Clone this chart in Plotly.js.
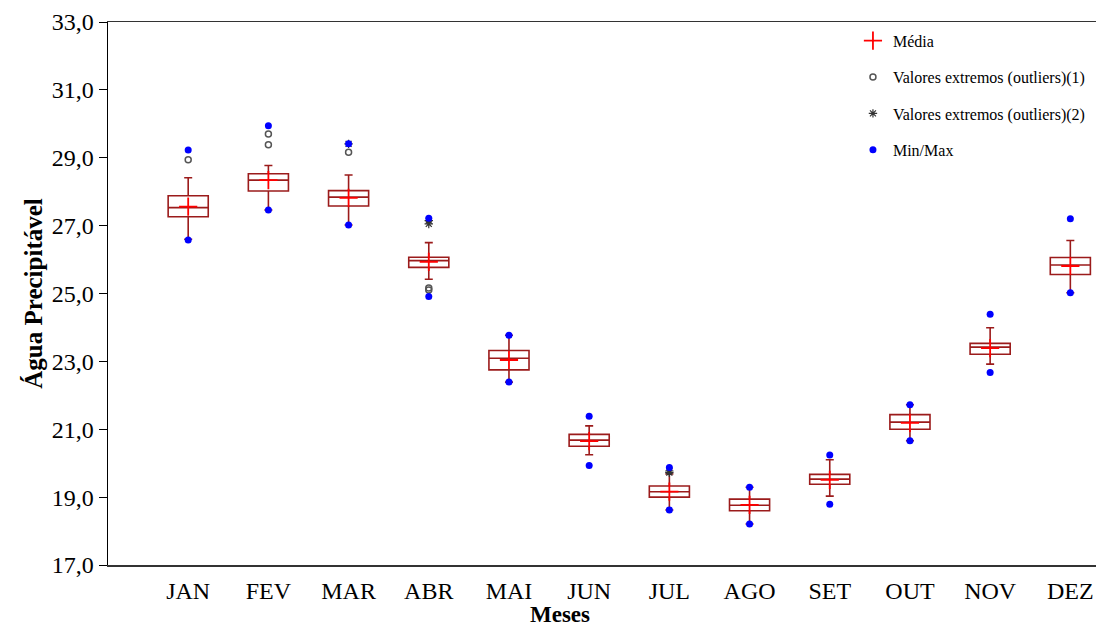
<!DOCTYPE html>
<html>
<head>
<meta charset="utf-8">
<script src="https://cdn.plot.ly/plotly-3.0.1.min.js"></script>
<style>html,body{margin:0;padding:0;background:#fff;}#chart{width:1097px;height:630px;}</style>
</head>
<body>
<div id="chart"></div>
<script>
const months = ['JAN','FEV','MAR','ABR','MAI','JUN','JUL','AGO','SET','OUT','NOV','DEZ'];
const q1     = [27.26, 28.02, 27.58, 25.77, 22.75, 20.50, 19.00, 18.60, 19.38, 21.00, 23.21, 25.56];
const median = [27.53, 28.34, 27.84, 25.97, 23.09, 20.68, 19.16, 18.76, 19.53, 21.21, 23.42, 25.84];
const q3     = [27.88, 28.53, 28.03, 26.07, 23.32, 20.85, 19.33, 18.94, 19.67, 21.43, 23.53, 26.06];
const lowerWhisker = [26.60, 27.46, 27.02, 25.42, 22.39, 20.25, 18.62, 18.21, 19.03, 20.66, 22.92, 25.02];
const upperWhisker = [28.41, 28.77, 28.49, 26.50, 23.77, 21.10, 19.68, 19.29, 20.10, 21.72, 23.99, 26.56];
const mean   = [27.56, 28.34, 27.82, 25.93, 23.04, 20.65, 19.16, 18.77, 19.51, 21.19, 23.39, 25.81];
const minVal = [26.58, 27.46, 27.02, 24.91, 22.39, 19.93, 18.62, 18.21, 18.79, 20.66, 22.67, 25.02];
const maxVal = [29.23, 29.94, 29.41, 27.22, 23.77, 21.38, 19.87, 19.29, 20.24, 21.72, 24.39, 27.20];
const outliers1Month = ['JAN','FEV','FEV','MAR','ABR','ABR'];
const outliers1Value = [28.94, 29.70, 29.38, 29.16, 25.16, 25.10];
const outliers2Month = ['MAR','ABR','ABR','JUL','JUL'];
const outliers2Value = [29.41, 27.15, 27.05, 19.77, 19.72];
const yTicks = [17, 19, 21, 23, 25, 27, 29, 31, 33];

const serif = 'Liberation Serif, Times New Roman, serif';
const boxColor = '#9b1b1b';

const traces = [
  {
    type: 'box', x: months, q1: q1, median: median, q3: q3,
    lowerfence: lowerWhisker, upperfence: upperWhisker,
    boxpoints: false, width: 0.5, whiskerwidth: 0.2,
    line: {color: boxColor, width: 1.6},
    fillcolor: 'rgba(255,255,255,0)',
    showlegend: false, hoverinfo: 'skip'
  },
  {
    type: 'scatter', mode: 'markers', x: months, y: mean, name: 'Média',
    legendgroup: 'a',
    marker: {symbol: 'cross-thin-open', size: 13, color: '#ff0000', line: {color: '#ff0000', width: 1.8}}
  },
  {
    type: 'scatter', mode: 'markers', x: outliers1Month, y: outliers1Value,
    name: 'Valores extremos (outliers)(1)', legendgroup: 'b',
    marker: {symbol: 'circle-open', size: 6, color: '#555', line: {color: '#555', width: 1.5}}
  },
  {
    type: 'scatter', mode: 'markers', x: outliers2Month, y: outliers2Value,
    name: 'Valores extremos (outliers)(2)', legendgroup: 'c',
    marker: {symbol: 'asterisk-open', size: 7, color: '#333', line: {color: '#333', width: 1.2}}
  },
  {
    type: 'scatter', mode: 'markers', x: months.concat(months), y: minVal.concat(maxVal),
    name: 'Min/Max', legendgroup: 'd',
    marker: {symbol: 'circle', size: 7, color: '#0000ff'}
  }
];

const layout = {
  width: 1097, height: 630,
  margin: {l: 108, r: 1, t: 22, b: 65},
  paper_bgcolor: '#fff', plot_bgcolor: '#fff',
  separators: ',.',
  font: {family: serif, color: '#000'},
  xaxis: {
    type: 'category', categoryorder: 'array', categoryarray: months,
    range: [-1, 11.32], showgrid: false, zeroline: false,
    showline: true, linecolor: '#333', linewidth: 1.5, mirror: true,
    ticks: '', ticklabelstandoff: 4, tickfont: {family: serif, size: 24, color: '#000'}
  },
  yaxis: {
    range: [17, 33], tickvals: yTicks, tickformat: '.1f',
    showgrid: false, zeroline: false,
    showline: true, linecolor: '#000', linewidth: 1.5,
    ticks: 'outside', ticklen: 8, tickwidth: 1, tickcolor: '#000',
    tickfont: {family: serif, size: 24, color: '#000'},
    title: {text: '<b>Água Precipitável</b>', font: {family: serif, size: 25, color: '#000'}, standoff: 2}
  },
  annotations: [{
    text: '<b>Meses</b>', xref: 'paper', yref: 'paper', x: 0.4575, y: -0.1165,
    xanchor: 'center', yanchor: 'bottom', showarrow: false, borderpad: 0,
    font: {family: serif, size: 23, color: '#000'}
  }],
  legend: {
    x: 0.754, y: 0.997, xanchor: 'left', yanchor: 'top',
    bgcolor: 'rgba(0,0,0,0)', borderwidth: 0,
    font: {family: serif, size: 16, color: '#000'},
    tracegroupgap: 12.6, traceorder: 'grouped'
  },
  showlegend: true
};

Plotly.newPlot('chart', traces, layout, {displayModeBar: false, staticPlot: true});
</script>
</body>
</html>
